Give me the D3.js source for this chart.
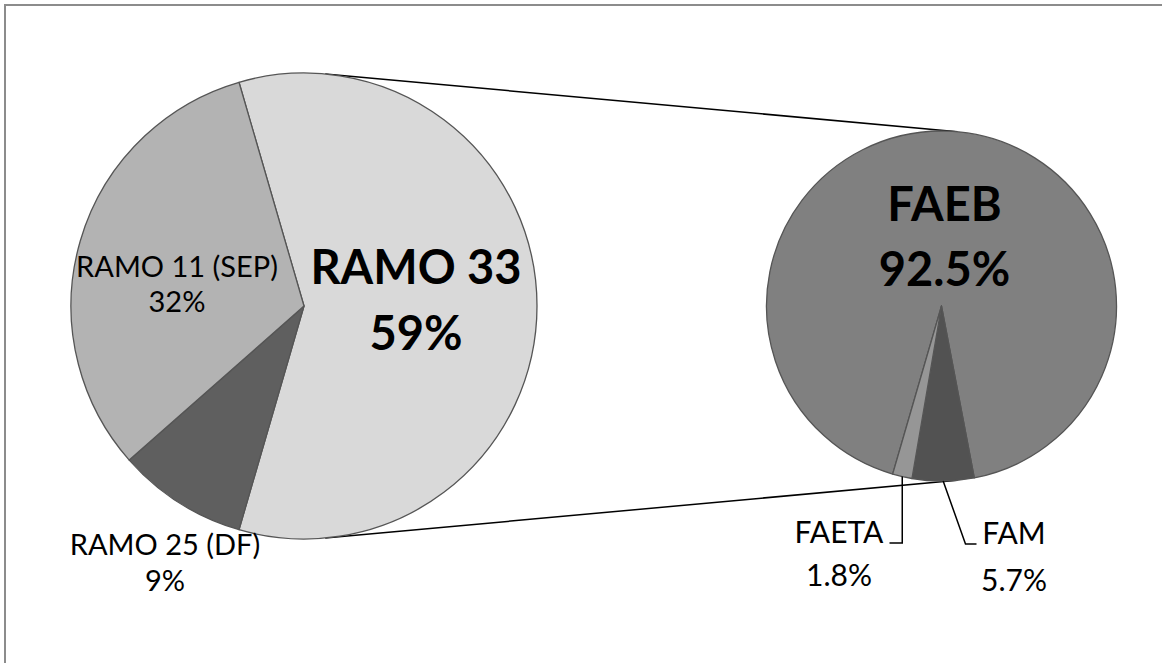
<!DOCTYPE html>
<html>
<head>
<meta charset="utf-8">
<script src="https://cdn.jsdelivr.net/npm/d3@7"></script>
<style>
  html, body { margin: 0; padding: 0; background: #fff; }
  svg { display: block; }
  text { font-family: Lato, "Open Sans", sans-serif; fill: #000; }
</style>
</head>
<body>
<svg id="chart" width="1162" height="663"></svg>
<script>
// Main pie: budget branches (share in %)
const mainCategories = ["RAMO 33", "RAMO 25 (DF)", "RAMO 11 (SEP)"];
const mainShares = [59, 9, 32];
const mainColors = ["#d9d9d9", "#5f5f5f", "#b3b3b3"];

// Secondary pie: breakdown of RAMO 33 (share in %)
const detailCategories = ["FAEB", "FAM", "FAETA"];
const detailShares = [92.5, 5.7, 1.8];
const detailColors = ["#808080", "#525252", "#969696"];

const svg = d3.select("#chart");
const W = 1162, H = 663;

// chart frame
svg.append("rect")
  .attr("x", 5).attr("y", 5)
  .attr("width", W + 20).attr("height", H + 20)
  .attr("fill", "none").attr("stroke", "#8c8c8c").attr("stroke-width", 2);

const main = { cx: 304, cy: 306, r: 233 };
const detail = { cx: 941.5, cy: 306, r: 175 };

// the split-off slice (RAMO 33) faces the secondary pie
const splitShare = mainShares[0] / d3.sum(mainShares);
const mainStart = Math.PI / 2 - splitShare * Math.PI;
const detailStart = Math.PI / 2 + splitShare * Math.PI;

const mainPie = d3.pie().sort(null).value(d => d.v)
  .startAngle(mainStart).endAngle(mainStart + 2 * Math.PI);
const detailPie = d3.pie().sort(null).value(d => d.v)
  .startAngle(detailStart).endAngle(detailStart + 2 * Math.PI);

const mainData = mainPie(mainCategories.map((c, i) => ({ c, v: mainShares[i], col: mainColors[i] })));
const detailData = detailPie(detailCategories.map((c, i) => ({ c, v: detailShares[i], col: detailColors[i] })));

const mainArc = d3.arc().innerRadius(0).outerRadius(main.r);
const detailArc = d3.arc().innerRadius(0).outerRadius(detail.r);

// connector lines: common outer tangents of the two circles
const dist = detail.cx - main.cx;
const alpha = Math.asin((main.r - detail.r) / dist);
function onCircle(c, ang) {
  return [c.cx + c.r * Math.sin(ang), c.cy - c.r * Math.cos(ang)];
}
[alpha, Math.PI - alpha].forEach(a => {
  const p1 = onCircle(main, a), p2 = onCircle(detail, a);
  svg.append("line")
    .attr("x1", p1[0]).attr("y1", p1[1])
    .attr("x2", p2[0]).attr("y2", p2[1])
    .attr("stroke", "#000").attr("stroke-width", 1.5);
});

const gMain = svg.append("g").attr("transform", `translate(${main.cx},${main.cy})`);
gMain.selectAll("path").data(mainData).join("path")
  .attr("d", mainArc)
  .attr("fill", d => d.data.col)
  .attr("stroke", "#555").attr("stroke-width", 1.3).attr("stroke-linejoin", "round");

const gDetail = svg.append("g").attr("transform", `translate(${detail.cx},${detail.cy})`);
gDetail.selectAll("path").data(detailData).join("path")
  .attr("d", detailArc)
  .attr("fill", d => d.data.col)
  .attr("stroke", "#555").attr("stroke-width", 1.3).attr("stroke-linejoin", "round");

// labels
function label(x, y, lines, size, weight, gap) {
  const t = svg.append("text")
    .attr("x", x).attr("y", y)
    .attr("text-anchor", "middle")
    .style("font-size", size + "px")
    .style("font-weight", weight);
  lines.forEach((s, i) => {
    t.append("tspan").attr("x", x).attr("dy", i === 0 ? 0 : gap).text(s);
  });
}
const pct0 = v => d3.format(".0f")(v) + "%";
const pct1 = v => d3.format(".1f")(v) + "%";

label(416, 284, [mainCategories[0], pct0(mainShares[0])], 47, 700, 66);
label(177, 277, [mainCategories[2], pct0(mainShares[2])], 29, 400, 35);
label(165, 555, [mainCategories[1], pct0(mainShares[1])], 29, 400, 35.5);

label(944.5, 221, [detailCategories[0], pct1(detailShares[0])], 47, 700, 65);
label(839, 543, [detailCategories[2], pct1(detailShares[2])], 30, 400, 43);
label(1014, 544, [detailCategories[1], pct1(detailShares[1])], 30, 400, 47);

// leader lines for the small slices of the secondary pie
function edgePoint(d) {
  const a = (d.startAngle + d.endAngle) / 2;
  return onCircle(detail, a);
}
const famPt = edgePoint(detailData[1]);
const faetaPt = edgePoint(detailData[2]);
const leader = d3.line();
svg.append("path")
  .attr("d", leader([faetaPt, [faetaPt[0], 543], [889.5, 543]]))
  .attr("fill", "none").attr("stroke", "#000").attr("stroke-width", 1.5);
svg.append("path")
  .attr("d", leader([famPt, [965.5, 544], [976.5, 544]]))
  .attr("fill", "none").attr("stroke", "#000").attr("stroke-width", 1.5);
</script>
</body>
</html>
